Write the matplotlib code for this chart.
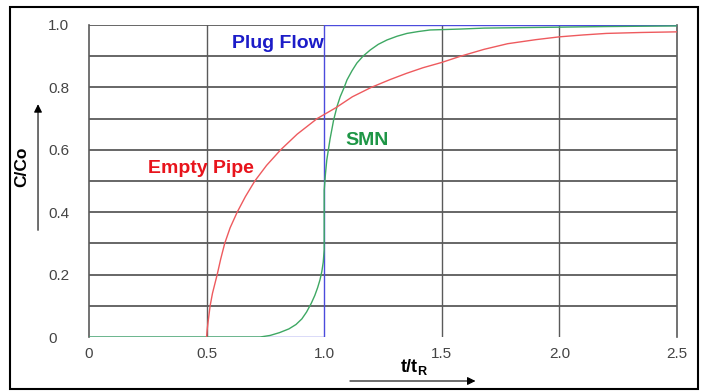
import numpy as np
import matplotlib.pyplot as plt
from matplotlib.patches import Rectangle

plt.rcParams['font.family'] = ['Liberation Sans', 'DejaVu Sans']
plt.rcParams['mathtext.fontset'] = 'custom'
plt.rcParams['mathtext.rm'] = 'Liberation Sans'
plt.rcParams['mathtext.bf'] = 'Liberation Sans:bold'

# Datos (t/tR, C/Co)
empty_t = [0.5, 0.502, 0.505, 0.51, 0.515, 0.525, 0.535, 0.545, 0.56, 0.577,
           0.6, 0.63, 0.665, 0.705, 0.755, 0.815, 0.885, 0.97, 1.05, 1.12,
           1.2, 1.28, 1.35, 1.42, 1.5, 1.58, 1.68, 1.78, 1.9, 2.0, 2.1, 2.2,
           2.35, 2.5]
empty_c = [0.0, 0.02, 0.04, 0.07, 0.1, 0.14, 0.17, 0.2, 0.25, 0.3,
           0.35, 0.4, 0.45, 0.5, 0.55, 0.6, 0.65, 0.7, 0.735, 0.77,
           0.8, 0.825, 0.845, 0.863, 0.88, 0.9, 0.922, 0.94, 0.953, 0.962,
           0.968, 0.973, 0.976, 0.978]

smn_t = [0.0, 0.728, 0.77, 0.81, 0.85, 0.88, 0.905, 0.925, 0.945, 0.96, 0.972,
         0.982, 0.99, 0.996, 1.0, 1.0, 1.005, 1.011, 1.025, 1.04, 1.055, 1.068,
         1.085, 1.097, 1.118, 1.139, 1.165, 1.196, 1.23, 1.267, 1.31, 1.352,
         1.4, 1.45, 1.58, 1.68, 2.2, 2.5]
smn_c = [0.0, 0.0, 0.005, 0.014, 0.026, 0.04, 0.058, 0.08, 0.108, 0.133, 0.158,
         0.183, 0.21, 0.24, 0.28, 0.47, 0.52, 0.567, 0.635, 0.695, 0.74, 0.77,
         0.8, 0.824, 0.853, 0.878, 0.9, 0.92, 0.938, 0.952, 0.964, 0.973,
         0.979, 0.984, 0.987, 0.99, 0.995, 0.997]

plug_t = [0.0, 1.0, 1.0, 2.5]
plug_c = [0.0, 0.0, 1.0, 1.0]

x_ticks = [0, 0.5, 1.0, 1.5, 2.0, 2.5]
x_labels = ['0', '0.5', '1.0', '1.5', '2.0', '2.5']
y_ticks = [0, 0.2, 0.4, 0.6, 0.8, 1.0]
y_labels = ['0', '0.2', '0.4', '0.6', '0.8', '1.0']
h_grid = [0.1, 0.2, 0.3, 0.4, 0.5, 0.6, 0.7, 0.8, 0.9, 1.0]
v_grid = [0.5, 1.5, 2.0]

fig = plt.figure(figsize=(7.08, 3.91), dpi=100)
ax = fig.add_axes([0.1257, 0.1381, 0.8305, 0.798])

grid_col = '#5a5a5a'
for y in h_grid:
    ax.axhline(y, color=grid_col, linewidth=1.3, zorder=1)
for x in v_grid:
    ax.axvline(x, color=grid_col, linewidth=1.0, zorder=1)

ax.plot(plug_t, plug_c, color='#4b4bdc', linewidth=1.0, zorder=3)
ax.plot(smn_t, smn_c, color='#3ea863', linewidth=1.0, zorder=4)
ax.plot(empty_t, empty_c, color='#ee5a5e', linewidth=1.0, zorder=4)

ax.text(1.0, 0.942, 'Plug Flow', color='#1c1cc8', fontsize=14, fontweight='bold',
        ha='right', va='center')
ax.text(1.09, 0.63, 'SMN', color='#1e9646', fontsize=14, fontweight='bold',
        ha='left', va='center')
ax.text(0.25, 0.54, 'Empty Pipe', color='#e8141c', fontsize=14, fontweight='bold',
        ha='left', va='center')

ax.set_xlim(0, 2.5)
ax.set_ylim(0, 1.0)
ax.set_xticks(x_ticks)
ax.set_xticklabels(x_labels)
ax.set_yticks(y_ticks)
ax.set_yticklabels(y_labels)
ax.tick_params(length=0, labelsize=11, labelcolor='#444444')
ax.tick_params(axis='x', pad=7)
ax.tick_params(axis='y', pad=29.5)
for lab in ax.get_yticklabels():
    lab.set_horizontalalignment('left')

for side in ['top', 'bottom']:
    ax.spines[side].set_visible(False)
for side in ['left', 'right']:
    ax.spines[side].set_color(grid_col)
    ax.spines[side].set_linewidth(1.2)

ax.set_ylabel('C/Co', fontsize=12.5, fontweight='bold')
ax.yaxis.set_label_coords(-0.102, 0.545)
ax.set_xlabel(r'$\mathbf{t/t}_{\mathbf{R}}$', fontsize=13)
ax.xaxis.set_label_coords(0.553, -0.064)

# flechas de los ejes
ax.annotate('', xy=(-0.0867, 0.755), xytext=(-0.0867, 0.333), xycoords='axes fraction',
            arrowprops=dict(arrowstyle='-|>', color='black', lw=0.8,
                            mutation_scale=12), annotation_clip=False)
ax.annotate('', xy=(0.662, -0.141), xytext=(0.439, -0.141), xycoords='axes fraction',
            arrowprops=dict(arrowstyle='-|>', color='black', lw=0.8,
                            mutation_scale=12), annotation_clip=False)

# marco exterior
fig.patches.append(Rectangle((0.0141, 0.005), 0.972, 0.977, transform=fig.transFigure,
                             fill=False, edgecolor='black', linewidth=1.5))

plt.savefig('out.png', dpi=100)
